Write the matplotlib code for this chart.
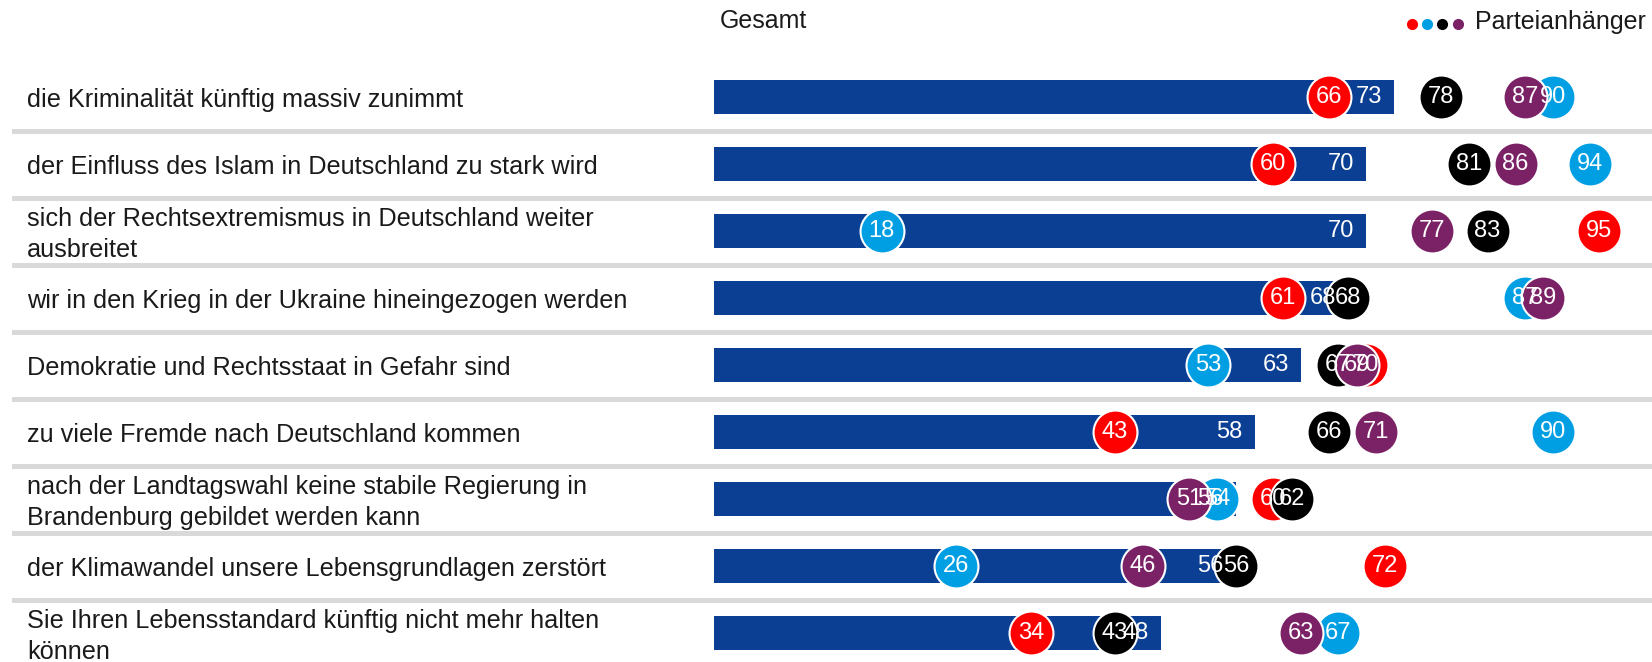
import matplotlib
matplotlib.use('Agg')
import matplotlib.pyplot as plt
import matplotlib.transforms as mtransforms

plt.rcParams['font.family'] = ['Liberation Sans', 'DejaVu Sans']

# Aussagen (Sorge, dass ...)
labels = [
    'die Kriminalität künftig massiv zunimmt',
    'der Einfluss des Islam in Deutschland zu stark wird',
    'sich der Rechtsextremismus in Deutschland weiter\nausbreitet',
    'wir in den Krieg in der Ukraine hineingezogen werden',
    'Demokratie und Rechtsstaat in Gefahr sind',
    'zu viele Fremde nach Deutschland kommen',
    'nach der Landtagswahl keine stabile Regierung in\nBrandenburg gebildet werden kann',
    'der Klimawandel unsere Lebensgrundlagen zerstört',
    'Sie Ihren Lebensstandard künftig nicht mehr halten\nkönnen',
]
gesamt = [73, 70, 70, 68, 63, 58, 56, 56, 48]

# Parteianhänger (Reihenfolge wie Legende: rot, hellblau, schwarz, lila)
rot = [66, 60, 95, 61, 70, 43, 60, 72, 34]
hellblau = [90, 94, 18, 87, 53, 90, 54, 26, 67]
schwarz = [78, 81, 83, 68, 67, 66, 62, 56, 43]
lila = [87, 86, 77, 89, 69, 71, 51, 46, 63]

parteien = [rot, hellblau, schwarz, lila]
farben = ['#ff0000', '#009fe3', '#000000', '#7b2166']

W, H = 1652, 662
fig = plt.figure(figsize=(W / 100, H / 100), dpi=100)
ax = fig.add_axes([714 / W, 0, 932 / W, 1])
ax.set_xlim(0, 100)
ax.set_ylim(8 + 29 / 67, -97 / 67)
ax.axis('off')

rows = list(range(len(labels)))

# Trennlinien
for i in rows[:-1]:
    ax.axhline(i + 0.5, xmin=(14 - 714) / 932, xmax=(W - 714) / 932,
               color='#d9d9d9', lw=3.6, clip_on=False, zorder=0)

# Balken Gesamt
ax.barh(rows, gesamt, height=0.5, color='#0a3f93', zorder=1)
for i, v in enumerate(gesamt):
    ax.text(v - 1.3, i, str(v), ha='right', va='center', color='white',
            fontsize=17, zorder=10)

# Punkte Parteianhänger
for k, (werte, farbe) in enumerate(zip(parteien, farben)):
    ax.scatter(werte, rows, s=1000, color=farbe, edgecolor='white',
               linewidth=1.5, zorder=3 + k, clip_on=False)
    for i, v in enumerate(werte):
        ax.text(v, i, str(v), ha='center', va='center', color='white',
                fontsize=17, zorder=10, clip_on=False)

# Beschriftungen links
trans = mtransforms.blended_transform_factory(fig.transFigure, ax.transData)
for i, lab in enumerate(labels):
    ax.text(27 / W, i + 0.05, lab, transform=trans, ha='left', va='center',
            fontsize=18.2, color='#1a1a1a', linespacing=1.35)

# Kopfzeile
fig.text(720 / W, 1 - 21 / H, 'Gesamt', ha='left', va='center',
         fontsize=18, color='#1a1a1a')
fig.text(1646 / W, 1 - 22 / H, 'Parteianhänger', ha='right', va='center',
         fontsize=18, color='#1a1a1a')
for x, farbe in zip([1412, 1427, 1442, 1458], farben):
    fig.add_artist(plt.Line2D([x / W], [1 - 24 / H], marker='o',
                              markersize=7, color=farbe, linestyle='None'))

fig.savefig('out.png', dpi=100)
